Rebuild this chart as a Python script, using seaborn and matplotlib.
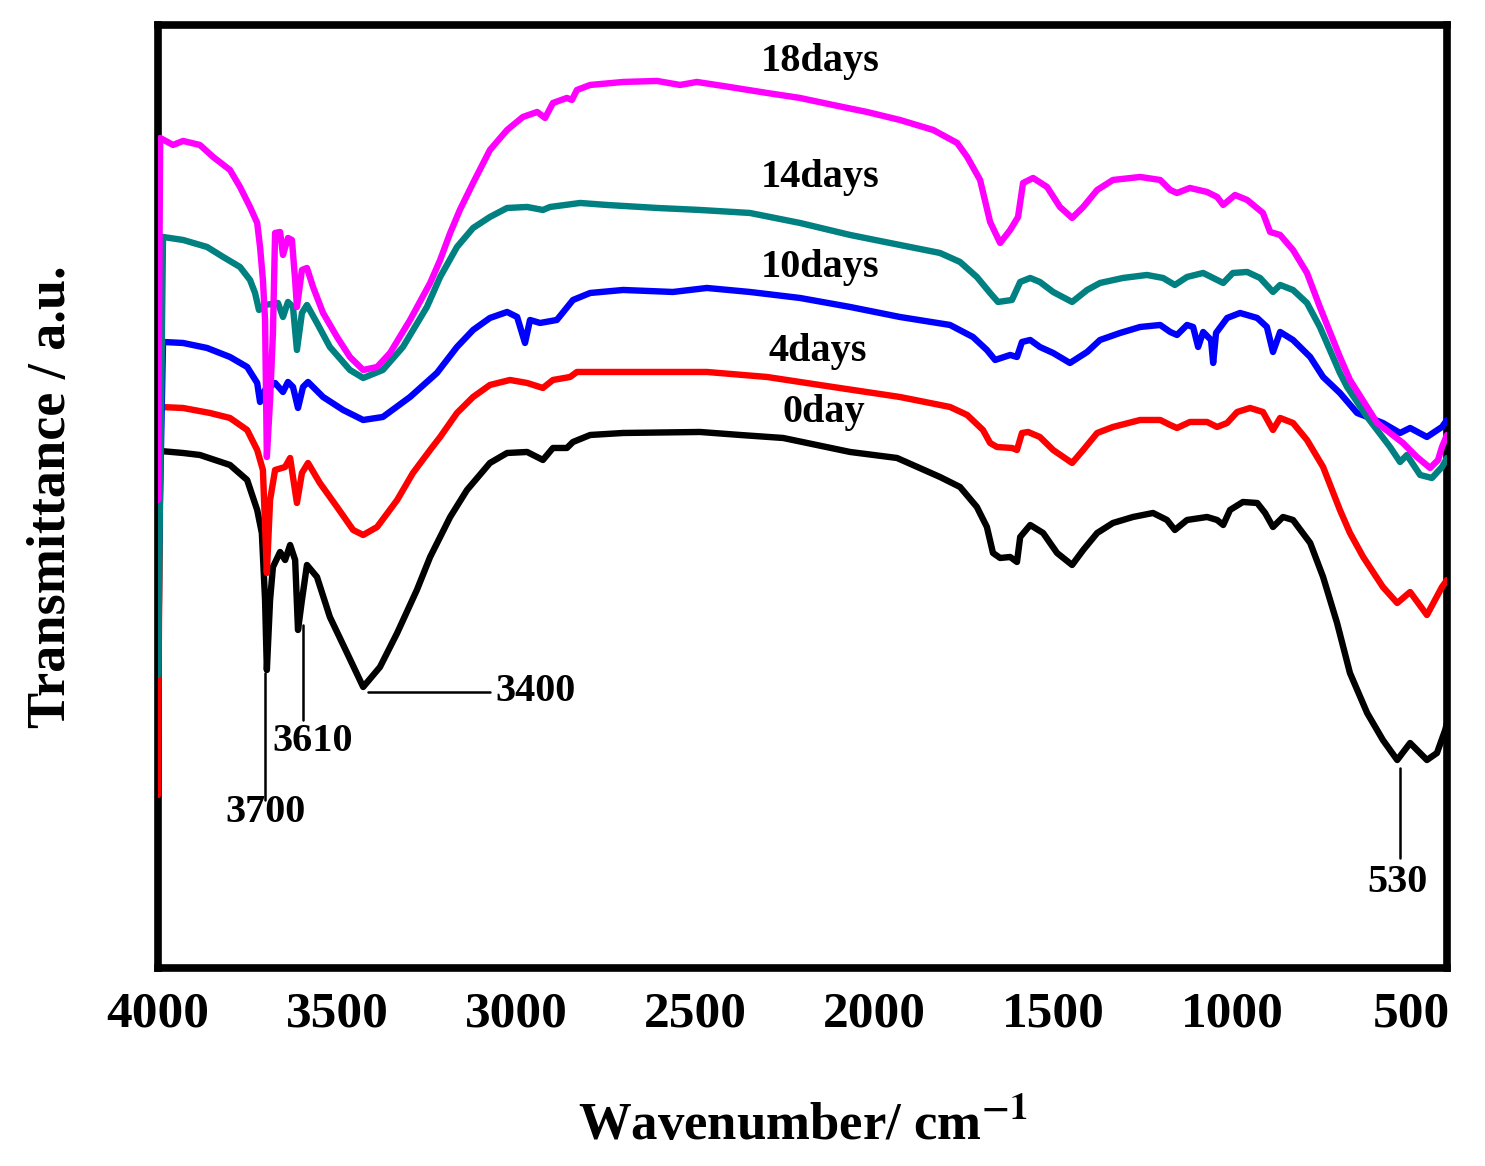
import numpy as np
import pandas as pd
import matplotlib
matplotlib.use("Agg")
import matplotlib.pyplot as plt
from matplotlib.ticker import MultipleLocator
import seaborn as sns

# FTIR spectra: wavenumber (cm-1) and transmittance (a.u.)
# first point of each spectrum is the low instrument reading at 4000 cm-1
wn_0day = [4000, 3994, 3930, 3883, 3799, 3751, 3723, 3710, 3701, 3696, 3687, 3679, 3659, 3645, 3631,
           3617, 3609, 3598, 3584, 3556, 3520, 3472, 3427, 3380, 3332, 3277, 3240, 3184, 3137, 3073,
           3025, 2969, 2925, 2897, 2858, 2841, 2793, 2701, 2486, 2374, 2254, 2067, 1936, 1816, 1760,
           1713, 1685, 1668, 1648, 1620, 1601, 1592, 1564, 1528, 1489, 1447, 1416, 1377, 1333, 1277,
           1221, 1182, 1160, 1126, 1070, 1042, 1025, 1006, 970, 930, 908, 886, 858, 830, 782, 746,
           707, 671, 623, 579, 539, 503, 456, 428, 405, 400]
t_0day = [25.0, 51.7, 51.5, 51.3, 50.3, 48.8, 45.8, 43.5, 36.8, 29.8, 36.8, 40.1, 41.6, 40.8, 42.3,
          40.8, 33.8, 36.8, 40.3, 39.1, 35.1, 31.5, 28.1, 30.1, 33.5, 37.8, 41.1, 45.1, 47.8, 50.5,
          51.5, 51.6, 50.8, 52.0, 52.0, 52.6, 53.3, 53.5, 53.6, 53.3, 53.0, 51.6, 51.0, 49.1, 48.1,
          46.1, 44.1, 41.5, 41.0, 41.1, 40.6, 43.1, 44.3, 43.5, 41.5, 40.3, 41.8, 43.5, 44.5, 45.1,
          45.5, 44.8, 43.8, 44.8, 45.1, 44.8, 44.3, 45.8, 46.6, 46.5, 45.5, 44.1, 45.1, 44.8, 42.5, 39.1,
          34.5, 29.5, 25.5, 22.8, 20.8, 22.5, 20.8, 21.5, 23.8, 24.5]

wn_4days = [4000, 3994, 3930, 3855, 3799, 3751, 3723, 3707, 3696, 3687, 3673, 3645, 3631, 3612, 3598,
            3581, 3548, 3500, 3455, 3427, 3388, 3332, 3288, 3240, 3212, 3165, 3120, 3073, 3017, 2969,
            2925, 2897, 2849, 2830, 2746, 2467, 2299, 2115, 1928, 1788, 1740, 1696, 1676, 1657, 1615,
            1601, 1587, 1570, 1537, 1500, 1447, 1416, 1377, 1333, 1257, 1201, 1173, 1154, 1118, 1070,
            1042, 1014, 986, 950, 914, 886, 866, 830, 791, 746, 699, 671, 634, 579, 539, 503, 456, 414, 400]
t_4days = [17.3, 56.1, 56.0, 55.5, 55.0, 53.8, 51.8, 49.8, 39.5, 46.8, 49.8, 50.1, 51.0, 46.5, 49.5,
           50.5, 48.5, 46.1, 43.8, 43.3, 44.1, 46.8, 49.5, 51.8, 53.1, 55.5, 57.1, 58.3, 58.8, 58.5,
           58.0, 58.8, 59.1, 59.6, 59.6, 59.6, 59.1, 58.1, 57.1, 56.1, 55.3, 53.8, 52.5, 52.1, 52.0,
           51.8, 53.5, 53.6, 53.1, 51.8, 50.5, 51.8, 53.5, 54.1, 54.8, 54.8, 54.3, 54.0, 54.6, 54.6,
           54.1, 54.5, 55.6, 56.0, 55.6, 53.8, 55.0, 54.5, 52.8, 50.1, 45.8, 43.5, 41.1, 38.1, 36.5, 37.6, 35.3, 38.1, 38.8]

wn_10days = [4000, 3986, 3930, 3863, 3799, 3751, 3723, 3715, 3701, 3673, 3651, 3637, 3623, 3609, 3595,
             3581, 3539, 3483, 3427, 3372, 3296, 3221, 3165, 3120, 3073, 3025, 2997, 2975, 2961, 2933,
             2886, 2841, 2793, 2701, 2562, 2467, 2347, 2207, 2067, 1928, 1788, 1724, 1685, 1662, 1620,
             1601, 1587, 1564, 1537, 1500, 1453, 1405, 1369, 1313, 1257, 1201, 1173, 1154, 1126, 1109,
             1095, 1081, 1059, 1053, 1045, 1014, 978, 930, 903, 886, 866, 830, 782, 746, 699, 651, 579,
             531, 503, 456, 414, 400]
t_10days = [36.8, 62.6, 62.5, 62.0, 61.1, 60.1, 58.5, 56.6, 57.8, 58.5, 57.6, 58.6, 58.1, 56.0, 58.1,
            58.6, 57.1, 55.8, 54.8, 55.1, 57.1, 59.5, 62.1, 63.8, 65.0, 65.6, 65.1, 62.5, 64.8, 64.5,
            64.8, 66.8, 67.5, 67.8, 67.6, 68.0, 67.6, 67.0, 66.1, 65.1, 64.3, 63.1, 61.8, 60.8, 61.3,
            61.1, 62.6, 62.8, 62.1, 61.5, 60.5, 61.6, 62.8, 63.5, 64.1, 64.3, 63.6, 63.3, 64.3, 64.1,
            62.1, 63.6, 62.8, 60.5, 63.5, 65.0, 65.5, 65.0, 64.1, 61.6, 63.6, 62.8, 61.1, 59.1, 57.5, 55.5, 54.5,
            53.5, 54.0, 53.1, 54.1, 54.8]

wn_14days = [4000, 3986, 3930, 3863, 3818, 3771, 3743, 3729, 3718, 3701, 3665, 3651, 3637, 3623, 3612,
             3598, 3584, 3556, 3520, 3464, 3427, 3372, 3316, 3249, 3212, 3165, 3120, 3073, 3025, 2969,
             2925, 2905, 2821, 2746, 2606, 2486, 2347, 2207, 2067, 1928, 1816, 1760, 1713, 1676, 1654,
             1615, 1592, 1564, 1537, 1500, 1447, 1405, 1369, 1305, 1238, 1193, 1160, 1126, 1081, 1053,
             1025, 998, 958, 922, 886, 866, 830, 791, 755, 699, 679, 623, 559, 531, 512, 475, 442, 414, 400]
t_14days = [29.3, 73.1, 72.8, 72.1, 71.1, 70.1, 68.8, 67.5, 65.8, 66.3, 66.5, 65.1, 66.6, 66.1, 61.8,
            65.5, 66.3, 64.5, 62.1, 59.8, 59.0, 59.8, 62.1, 66.1, 69.1, 72.1, 74.0, 75.1, 76.0, 76.1,
            75.8, 76.1, 76.5, 76.3, 76.0, 75.8, 75.5, 74.5, 73.3, 72.3, 71.5, 70.6, 69.1, 67.5, 66.6,
            66.8, 68.6, 69.0, 68.6, 67.6, 66.6, 67.8, 68.5, 69.0, 69.3, 69.0, 68.3, 69.1, 69.5, 69.0,
            68.5, 69.5, 69.6, 69.0, 67.6, 68.3, 67.8, 66.5, 64.1, 59.5, 58.1, 55.1, 52.1, 50.6, 51.3, 49.3, 49.0, 50.1, 51.0]

wn_18days = [4000, 3994, 3958, 3930, 3883, 3846, 3799, 3771, 3743, 3723, 3715, 3707, 3701, 3696, 3687,
             3679, 3673, 3659, 3651, 3637, 3626, 3617, 3612, 3598, 3584, 3567, 3539, 3500, 3464, 3427,
             3388, 3352, 3296, 3240, 3212, 3184, 3157, 3120, 3073, 3025, 2981, 2941, 2919, 2897, 2858,
             2844, 2830, 2793, 2701, 2606, 2542, 2495, 2422, 2299, 2207, 2115, 2020, 1928, 1835, 1768,
             1740, 1704, 1676, 1648, 1620, 1598, 1584, 1556, 1517, 1481, 1447, 1416, 1377, 1333, 1257,
             1201, 1173, 1154, 1118, 1070, 1042, 1025, 992, 958, 914, 894, 866, 830, 791, 755, 699, 671,
             595, 523, 484, 447, 425, 414, 400]
t_18days = [46.8, 83.0, 82.3, 82.7, 82.3, 81.1, 79.8, 78.1, 76.1, 74.5, 72.1, 68.8, 64.8, 51.1, 56.8,
            63.5, 73.5, 73.6, 71.3, 73.0, 72.8, 68.8, 66.1, 69.8, 70.0, 68.1, 65.5, 63.1, 61.1, 59.8,
            60.1, 61.5, 64.8, 68.5, 70.8, 73.5, 75.8, 78.5, 81.8, 83.8, 85.1, 85.6, 85.0, 86.5, 87.0,
            86.8, 87.8, 88.3, 88.6, 88.7, 88.3, 88.6, 88.2, 87.5, 87.0, 86.3, 85.6, 84.8, 83.8, 82.5,
            81.1, 78.8, 74.6, 72.5, 73.8, 75.1, 78.5, 79.0, 78.1, 76.1, 75.0, 76.1, 77.8, 78.8, 79.1,
            78.8, 77.8, 77.5, 78.0, 77.6, 77.1, 76.3, 77.3, 76.8, 75.5, 73.6, 73.3, 71.8, 69.5, 66.1, 61.1, 58.8,
            54.5, 52.5, 51.1, 50.0, 50.8, 52.1, 53.3]

samples = ["0day", "4days", "10days", "14days", "18days"]
colors = ["#000000", "#FF0000", "#0000FF", "#008080", "#FF00FF"]

# curve labels: (text, wavenumber, transmittance)
curve_labels = [("18days", 2151, 90.6), ("14days", 2151, 79.0), ("10days", 2151, 70.0),
                ("4days", 2157, 61.6), ("0day", 2140, 55.5)]

# band assignments on the 0day spectrum
band_3700 = dict(x=3700, y0=29.5, y1=16.8, text_y=15.6)
band_3610 = dict(x=3595, y0=34.3, y1=24.8, text_x=3567, text_y=22.6)
band_3400 = dict(x0=3413, x1=3073, y=27.6, text_x=3059)
band_530 = dict(x=531, y0=20.0, y1=11.0, text_x=539, text_y=8.6)

frames = []
for name, wn, t in zip(samples,
                       [wn_0day, wn_4days, wn_10days, wn_14days, wn_18days],
                       [t_0day, t_4days, t_10days, t_14days, t_18days]):
    frames.append(pd.DataFrame({"wavenumber": wn, "transmittance": t, "sample": name}))
df = pd.concat(frames, ignore_index=True)

sns.set_style("white")
plt.rcParams['font.family'] = ['Liberation Serif', 'DejaVu Serif']
plt.rcParams['font.weight'] = 'bold'
plt.rcParams['mathtext.fontset'] = 'stix'
plt.rcParams['text.color'] = 'black'
plt.rcParams['axes.labelcolor'] = 'black'
plt.rcParams['xtick.color'] = 'black'

fig = plt.figure(figsize=(14.85, 11.66), dpi=100)
ax = fig.add_axes([0.1064, 0.1698, 0.8680, 0.8088])

sns.lineplot(data=df, x="wavenumber", y="transmittance", hue="sample", hue_order=samples,
             palette=colors, sort=False, estimator=None, legend=False, linewidth=4.6,
             zorder=3, ax=ax)

ax.set_xlim(4000, 400)
ax.set_ylim(0, 94.3)
ax.set_yticks([])
ax.xaxis.set_major_locator(MultipleLocator(500))
ax.xaxis.set_minor_locator(MultipleLocator(250))
ax.tick_params(axis='x', which='major', direction='in', length=14, width=2.5,
               labelsize=37, pad=17, top=False, colors='black')
ax.tick_params(axis='x', which='minor', direction='in', length=7, width=2.5, top=False)
for lab in ax.get_xticklabels():
    lab.set_fontweight('bold')
for sp in ax.spines.values():
    sp.set_linewidth(5.5)
    sp.set_color('black')

ax.set_xlabel(r"Wavenumber/ cm$^{\mathbf{-1}}$", fontsize=38, fontweight='bold', labelpad=45)
ax.set_ylabel("Transmittance / a.u.", fontsize=39, fontweight='bold', labelpad=58)

for text, x, y in curve_labels:
    ax.text(x, y, text, fontsize=29, fontweight='bold', ha='center', va='center')

lk = dict(color='black', linewidth=1.8, zorder=4)
ax.plot([band_3700['x'], band_3700['x']], [band_3700['y0'], band_3700['y1']], **lk)
ax.text(band_3700['x'], band_3700['text_y'], "3700", fontsize=29, fontweight='bold',
        ha='center', va='center')
ax.plot([band_3610['x'], band_3610['x']], [band_3610['y0'], band_3610['y1']], **lk)
ax.text(band_3610['text_x'], band_3610['text_y'], "3610", fontsize=29, fontweight='bold',
        ha='center', va='center')
ax.plot([band_3400['x0'], band_3400['x1']], [band_3400['y'], band_3400['y']], **lk)
ax.text(band_3400['text_x'], band_3400['y'], "3400", fontsize=29, fontweight='bold',
        ha='left', va='center')
ax.plot([band_530['x'], band_530['x']], [band_530['y0'], band_530['y1']], **lk)
ax.text(band_530['text_x'], band_530['text_y'], "530", fontsize=29, fontweight='bold',
        ha='center', va='center')

fig.savefig("out.png", dpi=100)
